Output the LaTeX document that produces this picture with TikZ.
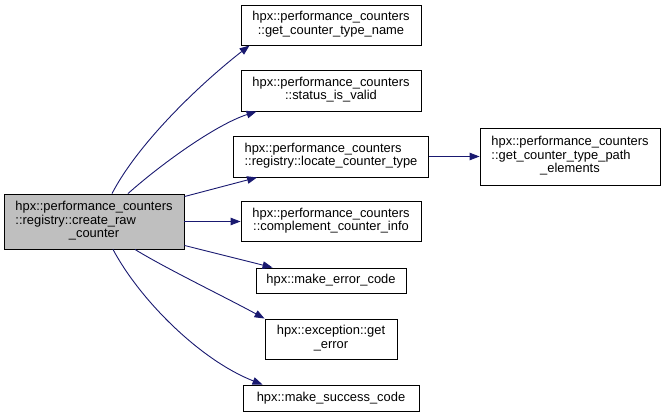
\documentclass[tikz,border=0pt]{standalone}
\usepackage{fontspec}
\setmainfont{Liberation Sans}
\usetikzlibrary{arrows.meta}
\definecolor{edgeblue}{HTML}{191970}
\definecolor{mainfill}{HTML}{BFBFBF}
\newcommand{\lbl}[2]{\begin{tabular}{@{}l@{}}#1\\\multicolumn{1}{@{}c@{}}{#2}\end{tabular}}
\begin{document}
\begin{tikzpicture}[x=1pt,y=-1pt,
  box/.style={draw=black, line width=0.9pt, fill=white, inner sep=0pt,
    font=\fontsize{12.9}{14.5}\selectfont, align=center, anchor=center},
  mainbox/.style={box, fill=mainfill},
  conn/.style={draw=edgeblue, line width=0.9pt, -{Triangle[length=10pt,width=7.5pt]}}
]
\useasboundingbox (0,0) rectangle (663,417);
\renewcommand{\arraystretch}{0.93}
\setlength{\tabcolsep}{0pt}

\node[mainbox, minimum width=180pt, minimum height=55pt] (main) at (94,221.5)
  {\lbl{hpx::performance\_counters\\::registry::create\_raw}{\_counter}};

\node[box, minimum width=180pt, minimum height=40pt] (gctn) at (331,25)
  {\lbl{hpx::performance\_counters}{::get\_counter\_type\_name}};
\node[box, minimum width=180pt, minimum height=41pt] (siv) at (331,90.5)
  {\lbl{hpx::performance\_counters}{::status\_is\_valid}};
\node[box, minimum width=195pt, minimum height=41pt] (loc) at (331,156.5)
  {\lbl{hpx::performance\_counters}{::registry::locate\_counter\_type}};
\node[box, minimum width=180pt, minimum height=40pt] (comp) at (331,221.5)
  {\lbl{hpx::performance\_counters}{::complement\_counter\_info}};
\node[box, minimum width=150pt, minimum height=25pt] (merr) at (331,280.5)
  {hpx::make\_error\_code};
\node[box, minimum width=132pt, minimum height=40pt] (gerr) at (331,339)
  {\lbl{hpx::exception::get}{\_error}};
\node[box, minimum width=176pt, minimum height=26pt] (msucc) at (331,398)
  {hpx::make\_success\_code};
\node[box, minimum width=180pt, minimum height=57pt] (path) at (570,156.5)
  {\lbl{hpx::performance\_counters\\::get\_counter\_type\_path}{\_elements}};

\draw[conn] ([xshift=18pt]main.north) .. controls (140,140) and (205,80) .. ([xshift=9pt]gctn.south west);
\draw[conn] ([xshift=34pt]main.north) .. controls (160,165) and (215,125) .. ([xshift=16pt]siv.south west);
\draw[conn] ([yshift=-3pt]main.north east) -- ([xshift=24pt]loc.south west);
\draw[conn] (main.east) -- (comp.west);
\draw[conn] ([yshift=4pt]main.south east) -- ([xshift=17pt]merr.north west);
\draw[conn] ([xshift=41pt]main.south) .. controls (165,268) and (225,297) .. (gerr.north west);
\draw[conn] ([xshift=19pt]main.south) .. controls (140,300) and (200,360) .. ([xshift=20pt]msucc.north west);
\draw[conn] (loc.east) -- (path.west);
\end{tikzpicture}
\end{document}
